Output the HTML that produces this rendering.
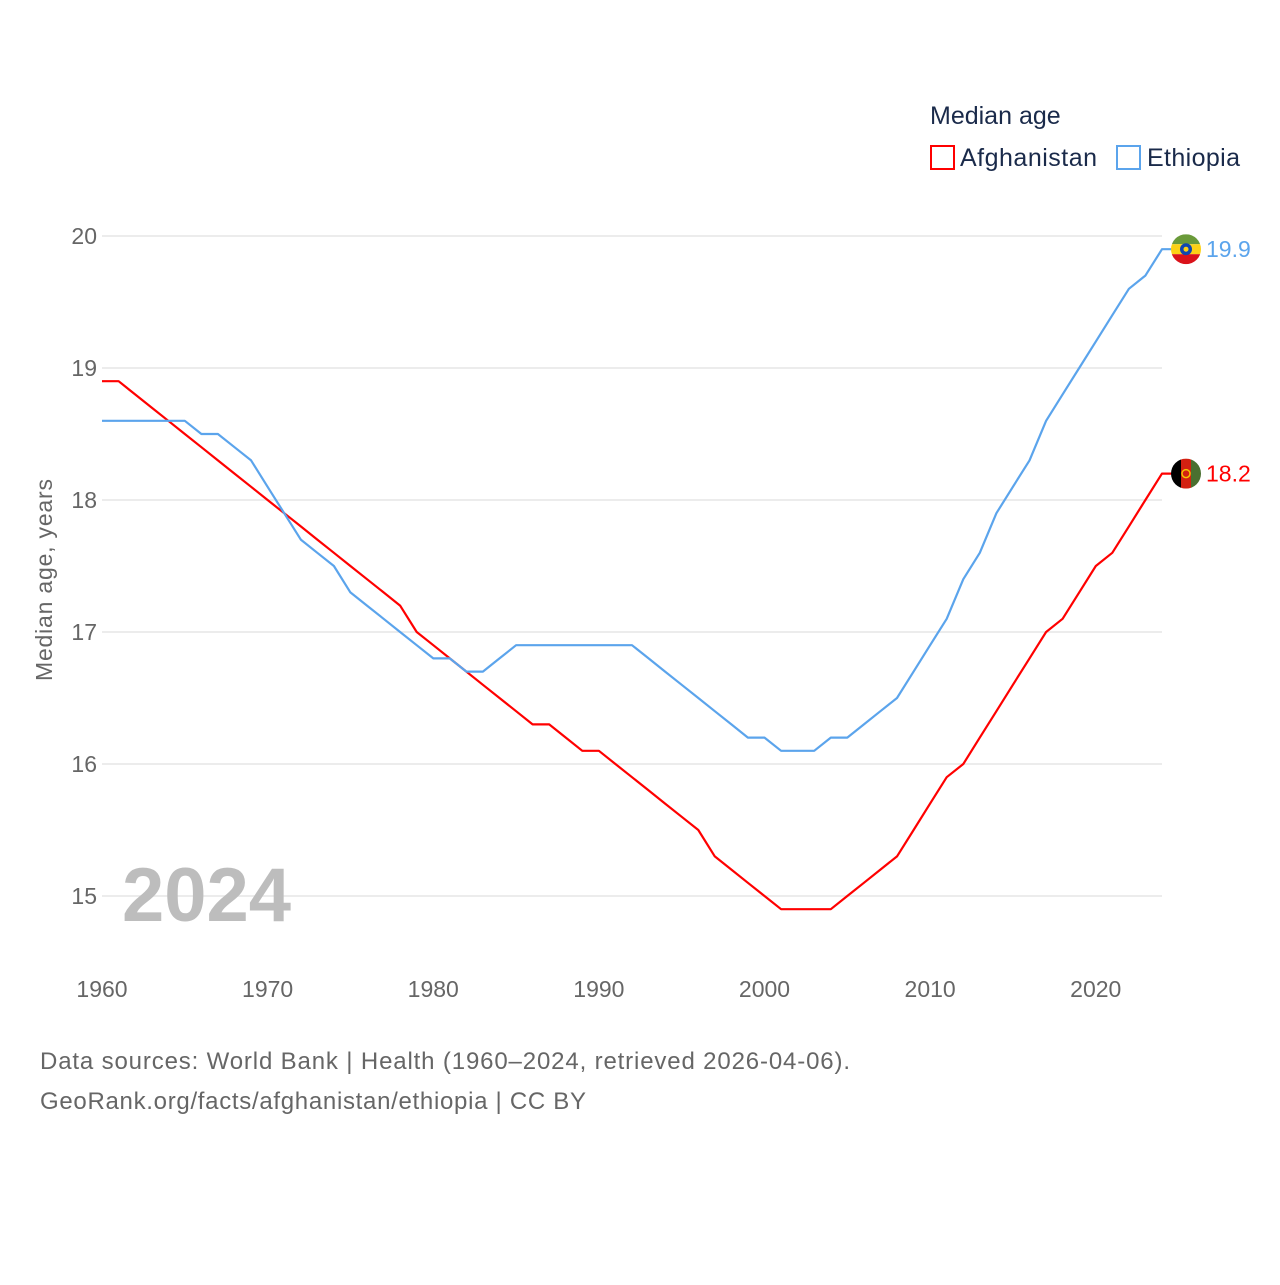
<!DOCTYPE html>
<html><head><meta charset="utf-8"><style>
body{margin:0;background:#fff;font-family:"Liberation Sans",sans-serif}
</style></head><body>
<svg width="1280" height="1280" viewBox="0 0 1280 1280" style="font-family:'Liberation Sans',sans-serif">
<g id="grid"></g>
<g id="yt"></g>
<g id="xt"></g>
<text x="52" y="580" transform="rotate(-90 52 580)" text-anchor="middle" font-size="23" fill="#666" textLength="202" lengthAdjust="spacing">Median age, years</text>
<text x="122" y="921" font-size="76" font-weight="bold" fill="#bdbdbd">2024</text>
<g id="series"></g>
<g>
<text x="930" y="124" font-size="25" fill="#1a2a4a">Median age</text>
<g><rect x="931" y="146" width="23" height="23" fill="none" stroke="#f00" stroke-width="2"/><text x="960" y="166" font-size="25" fill="#1a2a4a" textLength="137" lengthAdjust="spacing">Afghanistan</text></g>
<g><rect x="1117" y="146" width="23" height="23" fill="none" stroke="#5ba4ec" stroke-width="2"/><text x="1147" y="166" font-size="25" fill="#1a2a4a" textLength="93" lengthAdjust="spacing">Ethiopia</text></g>
</g>
<text x="40" y="1069" font-size="24" fill="#666" textLength="810" lengthAdjust="spacing">Data sources: World Bank | Health (1960–2024, retrieved 2026-04-06).</text>
<text x="40" y="1109" font-size="24" fill="#666" textLength="546" lengthAdjust="spacing">GeoRank.org/facts/afghanistan/ethiopia | CC BY</text>
</svg>
<script>
const years=[];for(let y=1960;y<=2024;y++)years.push(y);
const afghanistan=[18.9,18.9,18.8,18.7,18.6,18.5,18.4,18.3,18.2,18.1,18.0,17.9,17.8,17.7,17.6,17.5,17.4,17.3,17.2,17.0,16.9,16.8,16.7,16.6,16.5,16.4,16.3,16.3,16.2,16.1,16.1,16.0,15.9,15.8,15.7,15.6,15.5,15.3,15.2,15.1,15.0,14.9,14.9,14.9,14.9,15.0,15.1,15.2,15.3,15.5,15.7,15.9,16.0,16.2,16.4,16.6,16.8,17.0,17.1,17.3,17.5,17.6,17.8,18.0,18.2];
const ethiopia=[18.6,18.6,18.6,18.6,18.6,18.6,18.5,18.5,18.4,18.3,18.1,17.9,17.7,17.6,17.5,17.3,17.2,17.1,17.0,16.9,16.8,16.8,16.7,16.7,16.8,16.9,16.9,16.9,16.9,16.9,16.9,16.9,16.9,16.8,16.7,16.6,16.5,16.4,16.3,16.2,16.2,16.1,16.1,16.1,16.2,16.2,16.3,16.4,16.5,16.7,16.9,17.1,17.4,17.6,17.9,18.1,18.3,18.6,18.8,19.0,19.2,19.4,19.6,19.7,19.9];
const yTicks=[15,16,17,18,19,20];
const xTicks=[1960,1970,1980,1990,2000,2010,2020];
const NS='http://www.w3.org/2000/svg';
const X=y=>102+(y-1960)*(1162-102)/64;
const Y=v=>236+(20-v)*132;
function mk(t,a,p){const e=document.createElementNS(NS,t);for(const k in a)e.setAttribute(k,a[k]);p.appendChild(e);return e;}
const grid=document.getElementById('grid'),yt=document.getElementById('yt'),xt=document.getElementById('xt'),ser=document.getElementById('series');
yTicks.forEach(v=>{
 const l=mk('line',{x1:102,x2:1162,y1:Y(v),y2:Y(v),stroke:'#e6e6e6','stroke-width':1.5},grid);
 
 
 const t=mk('text',{x:97,y:Y(v)+8,'text-anchor':'end','font-size':23,fill:'#666'},yt);t.textContent=v;
 
 
});
xTicks.forEach(v=>{
 const t=mk('text',{x:X(v),y:997,'text-anchor':'middle','font-size':23,fill:'#666'},xt);t.textContent=v;
 
 
});
function series(data,color,name,flag){
 const d=data.map((v,i)=>(i?'L':'M')+X(years[i]).toFixed(1)+','+Y(v).toFixed(1)).join('')+'h24';
 const p=mk('path',{d:d,fill:'none',stroke:color,'stroke-width':2.2,'stroke-linejoin':'round'},ser);
 
 
 const last=data[data.length-1],cy=Y(last),cx=X(2024)+24;
 const g=mk('g',{},ser);
 
 
 const cid='c'+name;const cp=mk('clipPath',{id:cid},g);mk('circle',{cx:cx,cy:cy,r:15},cp);
 const cg=mk('g',{'clip-path':'url(#'+cid+')'},g);
 if(flag==='et'){mk('rect',{x:cx-15,y:cy-15,width:30,height:10,fill:'#6a9a3a'},cg);mk('rect',{x:cx-15,y:cy-5,width:30,height:10,fill:'#fcd116'},cg);mk('rect',{x:cx-15,y:cy+5,width:30,height:10,fill:'#da121a'},cg);mk('circle',{cx:cx,cy:cy,r:6,fill:'#0f47af'},cg);mk('circle',{cx:cx,cy:cy,r:2.5,fill:'#fcd116'},cg);}
 else{mk('rect',{x:cx-15,y:cy-15,width:10,height:30,fill:'#000'},cg);mk('rect',{x:cx-5,y:cy-15,width:10,height:30,fill:'#d32011'},cg);mk('rect',{x:cx+5,y:cy-15,width:10,height:30,fill:'#4a7030'},cg);mk('circle',{cx:cx,cy:cy,r:4,fill:'none',stroke:'#f5c400','stroke-width':1.5},cg);}
 const t=mk('text',{x:cx+20,y:cy+8,'font-size':23,fill:color},ser);t.textContent=last.toFixed(1);
 
 
}
series(afghanistan,'#f00','afghanistan','af');
series(ethiopia,'#5ba4ec','ethiopia','et');
</script>
</body></html>
